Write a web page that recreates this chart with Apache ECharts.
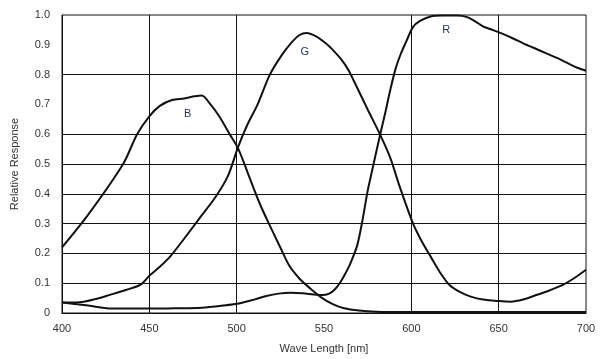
<!DOCTYPE html>
<html>
<head>
<meta charset="utf-8">
<script src="https://cdn.jsdelivr.net/npm/echarts@6/dist/echarts.min.js"></script>
<style>html,body{margin:0;padding:0;background:#fff}#c{width:600px;height:359px}</style>
</head>
<body>
<div id="c"></div>
<script>
const xTicks = [400, 450, 500, 550, 600, 650, 700];
const yTicks = [0, 0.1, 0.2, 0.3, 0.4, 0.5, 0.6, 0.7, 0.8, 0.9, 1.0];
const vGridLines = [450, 500, 600, 650];
const hGridLines = [0.1, 0.2, 0.3, 0.4, 0.5, 0.6, 0.8];

const blue = [[400,0.22],[415,0.33],[435,0.50],[443,0.60],[450,0.66],[456,0.695],[463,0.715],[470,0.72],[476,0.727],[480,0.73],[485,0.70],[490,0.66],[496,0.60],[501,0.55],[507,0.46],[513,0.37],[519,0.293],[525,0.22],[530,0.16],[536,0.115],[542,0.083],[549,0.05],[555,0.03],[561,0.017],[570,0.008],[580,0.004],[600,0.003],[650,0.003],[700,0.003]];
const green = [[400,0.035],[410,0.036],[420,0.048],[427,0.06],[437,0.078],[445,0.095],[450,0.125],[456,0.155],[462,0.19],[470,0.25],[479,0.32],[488,0.39],[495,0.46],[501,0.56],[506,0.63],[512,0.70],[519,0.80],[526,0.867],[531,0.905],[536,0.933],[540,0.94],[546,0.927],[551,0.905],[555,0.883],[560,0.85],[564,0.815],[567,0.78],[575,0.683],[582,0.60],[588,0.52],[593,0.43],[601,0.30],[606,0.24],[611,0.19],[616,0.14],[622,0.093],[628,0.07],[634,0.055],[641,0.045],[650,0.040],[657,0.038],[664,0.045],[670,0.057],[678,0.073],[687,0.095],[694,0.12],[700,0.145]];
const red = [[400,0.035],[415,0.025],[428,0.015],[450,0.015],[465,0.016],[480,0.018],[492,0.025],[502,0.033],[510,0.045],[517,0.057],[524,0.065],[531,0.068],[538,0.066],[544,0.062],[549,0.06],[553,0.065],[556,0.078],[559,0.10],[562,0.13],[565,0.165],[569,0.227],[572,0.31],[575,0.41],[578,0.49],[582,0.595],[585,0.67],[588,0.75],[591,0.82],[594,0.87],[597,0.91],[601,0.96],[605,0.98],[611,0.995],[618,0.998],[626,0.998],[632,0.993],[637,0.977],[641,0.962],[645,0.953],[651,0.94],[658,0.922],[664,0.905],[670,0.89],[677,0.872],[683,0.857],[689,0.84],[695,0.823],[700,0.813]];

const curveLabels = [
  {name: 'B', coord: [472, 0.667]},
  {name: 'G', coord: [539, 0.875]},
  {name: 'R', coord: [620, 0.95]}
];

const chart = echarts.init(document.getElementById('c'));
const lineStyle = {color: '#111', width: 2};
const font = 'Liberation Sans, Arial, sans-serif';

const gridMarks = vGridLines.map(v => ({xAxis: v})).concat(hGridLines.map(v => ({yAxis: v})));

chart.setOption({
  animation: false,
  backgroundColor: '#fff',
  grid: {left: 62, right: 14, top: 15, bottom: 44, show: true, borderColor: '#111', borderWidth: 1},
  xAxis: {
    type: 'value', min: 400, max: 700, interval: 50,
    name: 'Wave Length [nm]', nameLocation: 'middle', nameGap: 30,
    nameTextStyle: {fontFamily: font, fontSize: 11, color: '#333'},
    axisLine: {show: true, lineStyle: {color: '#111', width: 1}},
    axisTick: {show: false},
    splitLine: {show: false},
    axisLabel: {fontFamily: font, fontSize: 11, color: '#333', margin: 10}
  },
  yAxis: {
    type: 'value', min: 0, max: 1, interval: 0.1,
    name: 'Relative Response', nameLocation: 'middle', nameGap: 42,
    nameTextStyle: {fontFamily: font, fontSize: 11, color: '#333'},
    axisLine: {show: true, lineStyle: {color: '#111', width: 1}},
    axisTick: {show: false},
    splitLine: {show: false},
    axisLabel: {fontFamily: font, fontSize: 11, color: '#333', margin: 12,
      formatter: v => v === 0 ? '0' : v.toFixed(1)}
  },
  series: [
    {type: 'line', data: blue, smooth: 0.3, showSymbol: false, lineStyle: lineStyle, z: 3,
     markLine: {silent: true, symbol: 'none', label: {show: false},
       lineStyle: {color: '#111', width: 1, type: 'solid'}, data: gridMarks},
     markPoint: {symbol: 'circle', symbolSize: 0,
       label: {show: true, position: 'inside', formatter: p => p.name, fontFamily: font, fontSize: 11, color: '#223366'},
       data: curveLabels}
    },
    {type: 'line', data: green, smooth: 0.3, showSymbol: false, lineStyle: lineStyle, z: 3},
    {type: 'line', data: red, smooth: 0.3, showSymbol: false, lineStyle: lineStyle, z: 3}
  ]
});
</script>
</body>
</html>
